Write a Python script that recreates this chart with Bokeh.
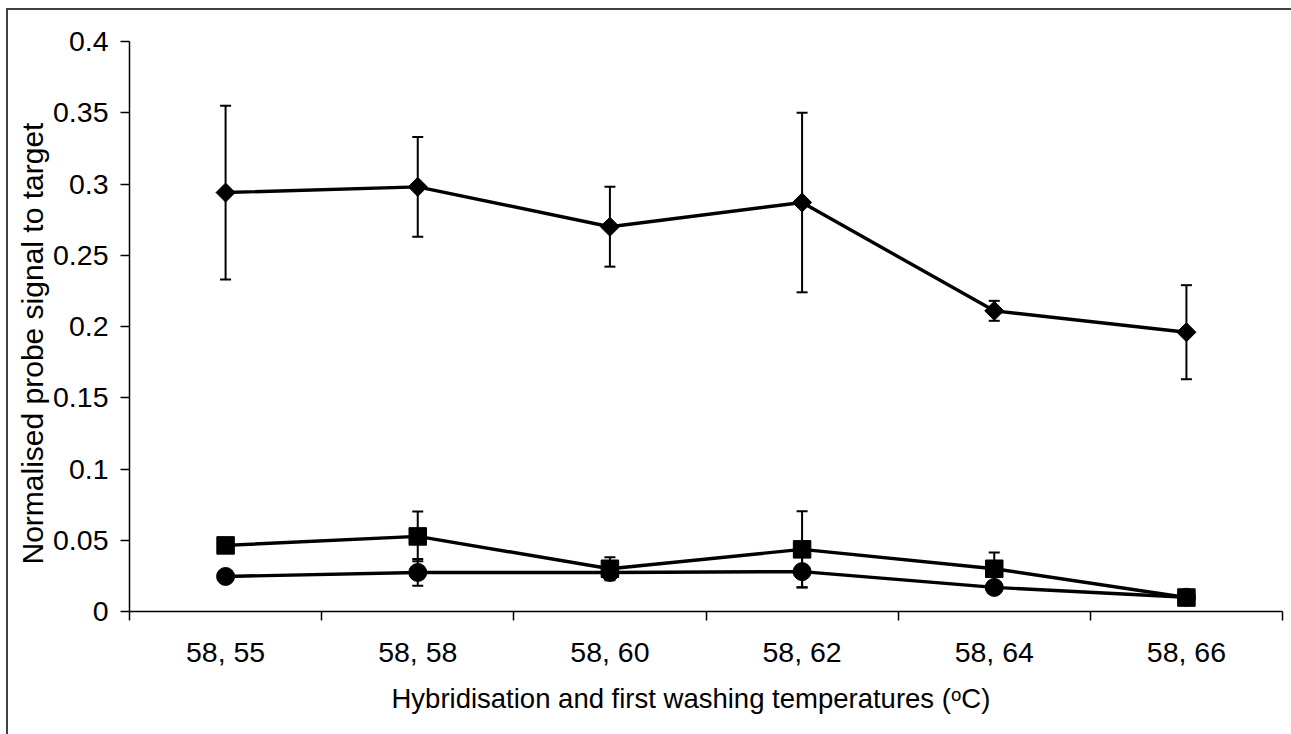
import numpy as np
from bokeh.plotting import figure
from bokeh.models import (ColumnDataSource, Whisker, TeeHead, FixedTicker, Range1d, Title)
from bokeh.embed import file_html
from bokeh.resources import INLINE

categories = ["58, 55", "58, 58", "58, 60", "58, 62", "58, 64", "58, 66"]

diamond_vals = [0.294, 0.298, 0.270, 0.287, 0.211, 0.196]
diamond_err = [0.061, 0.035, 0.028, 0.063, 0.007, 0.033]

square_vals = [0.0464, 0.0527, 0.0300, 0.0436, 0.0300, 0.0098]
square_err = [0.003, 0.0175, 0.008, 0.0267, 0.0114, 0.002]

circle_vals = [0.0246, 0.0274, 0.0274, 0.0280, 0.0169, 0.0100]
circle_err = [0.003, 0.0094, 0.004, 0.011, 0.003, 0.002]

y_ticks = [0, 0.05, 0.1, 0.15, 0.2, 0.25, 0.3, 0.35, 0.4]
y_tick_labels = ["0", "0.05", "0.1", "0.15", "0.2", "0.25", "0.3", "0.35", "0.4"]

x_label = "Hybridisation and first washing temperatures (\u1d52C)"
y_label = "Normalised probe signal to target"

FONT = "Liberation Sans"

xpos = [i + 0.5 for i in range(len(categories))]

# canvas is offset by (8, 10) inside the window; its outline forms the chart border
p = figure(width=1283, height=724, output_backend="svg", toolbar_location=None,
           x_range=Range1d(0, len(categories)), y_range=Range1d(0, 0.4),
           min_border_left=121, min_border_right=9, min_border_top=31,
           min_border_bottom=123, tools="")
p.styles = {"margin-left": "8px", "margin-top": "10px",
            "outline": "2px solid #404040", "outline-offset": "0px"}
p.outline_line_color = None
p.grid.visible = False
p.background_fill_color = "white"
p.border_fill_color = "white"

# x axis
xa = p.xaxis[0]
xa.ticker = FixedTicker(ticks=xpos, minor_ticks=list(range(len(categories) + 1)))
xa.major_label_overrides = {x: c for x, c in zip(xpos, categories)}
xa.major_tick_line_color = None
xa.major_tick_out = 0
xa.major_tick_in = 0
xa.minor_tick_out = 9
xa.minor_tick_in = 0
xa.minor_tick_line_color = "black"
xa.minor_tick_line_width = 1.5
xa.axis_line_color = "black"
xa.axis_line_width = 1.5
xa.major_label_text_font = FONT
xa.major_label_text_font_size = "28.5px"
xa.major_label_text_color = "black"
xa.major_label_standoff = 15

# y axis
ya = p.yaxis[0]
ya.ticker = FixedTicker(ticks=y_ticks, minor_ticks=[])
ya.major_label_overrides = {t: l for t, l in zip(y_ticks, y_tick_labels)}
ya.major_tick_out = 9
ya.major_tick_in = 0
ya.major_tick_line_width = 1.5
ya.major_tick_line_color = "black"
ya.axis_line_color = "black"
ya.axis_line_width = 1.5
ya.major_label_text_font = FONT
ya.major_label_text_font_size = "28.5px"
ya.major_label_text_color = "black"
ya.major_label_standoff = 12

# axis titles, placed as in the original (slightly off the frame centre)
ytitle = Title(text=y_label, align="left", offset=47, standoff=3,
               text_font=FONT, text_font_size="30px", text_font_style="normal",
               text_color="black")
p.add_layout(ytitle, "left")

xtitle = Title(text=x_label, align="left", offset=262, standoff=21,
               text_font=FONT, text_font_size="27.5px", text_font_style="normal",
               text_color="black")
p.add_layout(xtitle, "below")


def add_series(vals, errs, marker, size, angle=0.0):
    src = ColumnDataSource(dict(
        x=xpos, y=vals,
        upper=[v + e for v, e in zip(vals, errs)],
        lower=[v - e for v, e in zip(vals, errs)],
    ))
    w = Whisker(source=src, base="x", upper="upper", lower="lower",
                line_color="black", line_width=2, level="glyph",
                upper_head=TeeHead(size=11, line_width=2, line_color="black"),
                lower_head=TeeHead(size=11, line_width=2, line_color="black"))
    p.add_layout(w)
    p.line("x", "y", source=src, line_color="black", line_width=3.4)
    p.scatter("x", "y", source=src, marker=marker, size=size, angle=angle,
              fill_color="black", line_color="black")


add_series(diamond_vals, diamond_err, "square", 13.5, angle=np.pi / 4)
add_series(square_vals, square_err, "square", 17.5)
add_series(circle_vals, circle_err, "circle", 18)

open("out.html", "w").write(file_html(p, INLINE))
